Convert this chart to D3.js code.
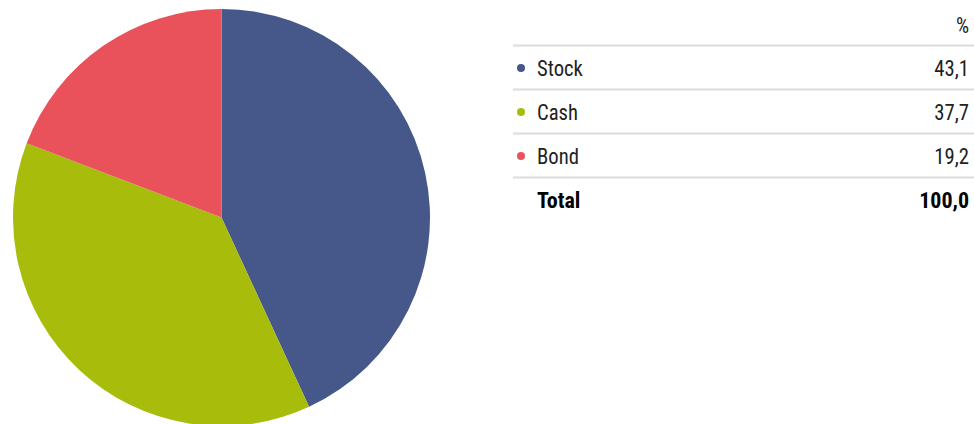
<!DOCTYPE html>
<html>
<head>
<meta charset="utf-8">
<script src="https://cdn.jsdelivr.net/npm/d3@7"></script>
<style>
	html, body { margin: 0; padding: 0; background: #fff; }
	svg { display: block; }
	text { font-family: "Liberation Sans Narrow", "Roboto Condensed", Roboto, sans-serif; }
</style>
</head>
<body>
<div id="chart"></div>
<script>
// Asset allocation pie + table
const categories = ['Stock', 'Cash', 'Bond'];
const values = [43.1, 37.7, 19.2];
const colors = ['#465789', '#a7bc0b', '#ea525b'];
const totalLabel = 'Total';
const totalValue = 100.0;
const unitLabel = '%';

(function() {
	'use strict';

	const width = 974;
	const height = 424;

	const svg = d3.select('#chart').append('svg')
		.attr('width', width)
		.attr('height', height);

	const fmt = v => v.toFixed(1).replace('.', ',');

	// Pie
	const radius = 208.5;
	const pieG = svg.append('g')
		.attr('transform', `translate(221.5, 217.5)`);

	const pie = d3.pie().sort(null).value(d => d.value);
	const arc = d3.arc().innerRadius(0).outerRadius(radius);

	const rows = categories.map((c, i) => ({ name: c, value: values[i], color: colors[i] }));

	pieG.selectAll('path')
		.data(pie(rows))
		.enter()
		.append('path')
		.attr('d', arc)
		.attr('fill', d => d.data.color);

	// Table
	const tLeft = 513;
	const tRight = 974;
	const textRight = 969;
	const fontSize = '22px';
	const rowY = d3.scaleLinear().domain([0, 1]).range([68, 112]);

	// slight horizontal squeeze to match the condensed face
	function squeeze(sel, x) {
		sel.attr('x', 0)
			.attr('transform', `translate(${x},0) scale(0.94,1)`);
	}

	svg.append('text')
		.attr('y', 25)
		.attr('dy', '0.35em')
		.attr('text-anchor', 'end')
		.style('font-size', fontSize)
		.style('fill', '#222')
		.text(unitLabel)
		.call(squeeze, textRight);

	// separators
	const seps = d3.range(rows.length + 1);
	svg.selectAll('.sep')
		.data(seps)
		.enter()
		.append('line')
		.attr('class', 'sep')
		.attr('x1', tLeft)
		.attr('x2', tRight)
		.attr('y1', i => rowY(i) - 22.5)
		.attr('y2', i => rowY(i) - 22.5)
		.attr('stroke', '#dcdcdc')
		.attr('stroke-width', 2);

	const row = svg.selectAll('.row')
		.data(rows)
		.enter()
		.append('g')
		.attr('class', 'row')
		.attr('transform', (d, i) => `translate(0, ${rowY(i)})`);

	row.append('circle')
		.attr('cx', 521)
		.attr('cy', 0)
		.attr('r', 4)
		.attr('fill', d => d.color);

	row.append('text')
		.attr('dy', '0.35em')
		.style('font-size', fontSize)
		.style('fill', '#222')
		.text(d => d.name)
		.call(squeeze, 537);

	row.append('text')
		.attr('dy', '0.35em')
		.attr('text-anchor', 'end')
		.style('font-size', fontSize)
		.style('fill', '#222')
		.text(d => fmt(d.value))
		.call(squeeze, textRight);

	const tot = svg.append('g')
		.attr('transform', `translate(0, ${rowY(rows.length)})`);

	tot.append('text')
		.attr('x', 537)
		.attr('dy', '0.35em')
		.style('font-size', fontSize)
		.style('font-weight', '700')
		.style('fill', '#000')
		.text(totalLabel);

	tot.append('text')
		.attr('x', textRight)
		.attr('dy', '0.35em')
		.attr('text-anchor', 'end')
		.style('font-size', fontSize)
		.style('font-weight', '700')
		.style('fill', '#000')
		.text(fmt(totalValue));
})();
</script>
</body>
</html>
